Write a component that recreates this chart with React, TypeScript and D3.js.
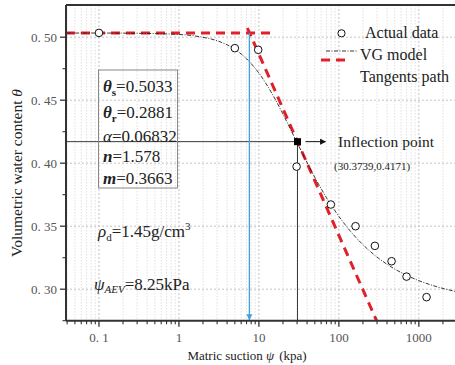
import React from "react";
import * as d3 from "d3";

// ---- data ----
const actualPsi = [0.1, 5.0, 9.8, 29.6, 79.4, 161.6, 282, 456, 702, 1248];
const actualTheta = [0.5034, 0.4913, 0.49, 0.3973, 0.3672, 0.35, 0.3344, 0.3222, 0.31, 0.2937];

const vgPsi = [0.04, 0.1, 0.3, 1, 2, 3, 5, 7, 10, 15, 20, 30, 50, 70, 100, 150, 200, 300, 500, 700, 1000, 1500, 2000, 3000];
const vgTheta = [0.5033, 0.5033, 0.5031, 0.5022, 0.4999, 0.4972, 0.4904, 0.4829, 0.4715, 0.4539, 0.439, 0.4164, 0.3888, 0.3726, 0.3578, 0.3437, 0.3353, 0.3255, 0.316, 0.3111, 0.3068, 0.3029, 0.3006, 0.298];

const tangentFlatPsi = [0.0387, 15.4];
const tangentFlatTheta = [0.5033, 0.5033];
const tangentSlopePsi = [7.17, 296];
const tangentSlopeTheta = [0.5073, 0.275];

const inflection = { psi: 30.3739, theta: 0.4171 };
const aevPsi = 7.6;

const xTicks = [0.1, 1, 10, 100, 1000];
const xTickLabels = ["0. 1", "1", "10", "100", "1000"];
const yTicks = [0.3, 0.35, 0.4, 0.45, 0.5];
const yTickLabels = ["0. 30", "0. 35", "0. 40", "0. 45", "0. 50"];
const yMinorTicks = [0.275, 0.325, 0.375, 0.425, 0.475];

const params = [
  { sym: "θ", sub: "s", val: "=0.5033" },
  { sym: "θ", sub: "r", val: "=0.2881" },
  { sym: "α", sub: "", val: "=0.06832" },
  { sym: "n", sub: "", val: "=1.578" },
  { sym: "m", sub: "", val: "=0.3663" },
];

const W = 455;
const H = 365;
const L = 66, R = 457, T = 5, B = 320.7;
const FONT = "'Liberation Serif', 'Times New Roman', serif";

export default function App() {
  const x = d3.scaleLog().domain([0.0387, 3000]).range([L, R]);
  const y = d3.scaleLinear().domain([0.275, 0.525]).range([B, T + 0.7]);

  const minorX: number[] = [];
  for (let e = -2; e <= 3; e++) {
    for (let k = 2; k <= 9; k++) {
      const v = k * Math.pow(10, e);
      if (v >= 0.0387 && v <= 3000) minorX.push(v);
    }
  }

  const line = d3
    .line<[number, number]>()
    .x((d) => x(d[0]))
    .y((d) => y(d[1]));
  const curve = d3
    .line<[number, number]>()
    .x((d) => x(d[0]))
    .y((d) => y(d[1]))
    .curve(d3.curveMonotoneX);

  const vgData = vgPsi.map((p, i) => [p, vgTheta[i]] as [number, number]);
  const flat = tangentFlatPsi.map((p, i) => [p, tangentFlatTheta[i]] as [number, number]);
  const slope = tangentSlopePsi.map((p, i) => [p, tangentSlopeTheta[i]] as [number, number]);

  const ix = x(inflection.psi);
  const iy = y(inflection.theta);
  const ax = x(aevPsi);

  return (
    <svg width={W} height={H} style={{ position: "absolute", left: 0, top: 0, background: "#fff" }} fontFamily={FONT}>
      <defs>
        <clipPath id="plot">
          <rect x={L} y={T} width={R - L} height={B - T} />
        </clipPath>
        <marker id="arrowBlue" viewBox="0 0 10 10" refX="9" refY="5" markerWidth="6" markerHeight="7" orient="auto" markerUnits="userSpaceOnUse">
          <path d="M0,0 L10,5 L0,10 z" fill="#3ea3e0" />
        </marker>
        <marker id="arrowBlack" viewBox="0 0 10 10" refX="9" refY="5" markerWidth="9" markerHeight="6" orient="auto" markerUnits="userSpaceOnUse">
          <path d="M0,0 L10,5 L0,10 z" fill="#111" />
        </marker>
      </defs>

      {/* grid */}
      <g clipPath="url(#plot)">
        {minorX.map((v, i) => (
          <line key={"mx" + i} x1={x(v)} x2={x(v)} y1={T} y2={B} stroke="#d8d8d8" strokeWidth={0.8} strokeDasharray="1.5,1.5" />
        ))}
        {xTicks.map((v, i) => (
          <line key={"gx" + i} x1={x(v)} x2={x(v)} y1={T} y2={B} stroke="#bdbdbd" strokeWidth={0.9} strokeDasharray="2,2" />
        ))}
        {yTicks.map((v, i) => (
          <line key={"gy" + i} x1={L} x2={R} y1={y(v)} y2={y(v)} stroke="#bdbdbd" strokeWidth={0.9} strokeDasharray="2,2" />
        ))}
      </g>

      {/* tangents */}
      <g clipPath="url(#plot)">
        <path d={line(flat) || ""} fill="none" stroke="#e0202a" strokeWidth={3} strokeDasharray="9,6" />
        <path d={line(slope) || ""} fill="none" stroke="#e0202a" strokeWidth={3} strokeDasharray="9,6" />
        {/* VG model */}
        <path d={curve(vgData) || ""} fill="none" stroke="#222" strokeWidth={0.9} strokeDasharray="4,1.5,1,1.5" />
      </g>

      {/* inflection guides */}
      <line x1={L} x2={ix} y1={iy} y2={iy} stroke="#222" strokeWidth={0.9} />
      <line x1={ix} x2={ix} y1={iy} y2={B} stroke="#222" strokeWidth={0.9} />

      {/* AEV blue arrow */}
      <line x1={ax} x2={ax} y1={y(0.5033)} y2={B - 1} stroke="#3ea3e0" strokeWidth={1.3} markerEnd="url(#arrowBlue)" />

      {/* actual data */}
      {actualPsi.map((p, i) => (
        <circle key={"pt" + i} cx={x(p)} cy={y(actualTheta[i])} r={3.8} fill="#fff" stroke="#111" strokeWidth={1} />
      ))}

      {/* inflection point */}
      <rect x={ix - 3.5} y={iy - 3.5} width={7} height={7} fill="#000" />
      <line x1={ix + 8} x2={ix + 28} y1={iy} y2={iy} stroke="#111" strokeWidth={1} markerEnd="url(#arrowBlack)" />
      <text x={338} y={147} fontSize={15.5} fill="#222">Inflection point</text>
      <text x={334} y={170} fontSize={11} fill="#222">(30.3739,0.4171)</text>

      {/* axes */}
      <line x1={L} x2={W} y1={T} y2={T} stroke="#333" strokeWidth={2} />
      <line x1={L} x2={L} y1={T} y2={B} stroke="#333" strokeWidth={2} />
      <line x1={L} x2={W} y1={B} y2={B} stroke="#333" strokeWidth={2} />
      {xTicks.map((v, i) => (
        <g key={"xt" + i}>
          <line x1={x(v)} x2={x(v)} y1={B} y2={B + 6} stroke="#333" strokeWidth={1.3} />
          <text x={x(v)} y={B + 21} fontSize={13} fill="#555" textAnchor="middle">{xTickLabels[i]}</text>
        </g>
      ))}
      {minorX.map((v, i) => (
        <line key={"mxt" + i} x1={x(v)} x2={x(v)} y1={B} y2={B + 3.5} stroke="#333" strokeWidth={1.1} />
      ))}
      {yTicks.map((v, i) => (
        <g key={"yt" + i}>
          <line x1={L - 6} x2={L} y1={y(v)} y2={y(v)} stroke="#333" strokeWidth={1.3} />
          <text x={L - 9} y={y(v) + 4.5} fontSize={13} fill="#555" textAnchor="end">{yTickLabels[i]}</text>
        </g>
      ))}
      {yMinorTicks.map((v, i) => (
        <line key={"ymt" + i} x1={L - 3.5} x2={L} y1={y(v)} y2={y(v)} stroke="#333" strokeWidth={1.1} />
      ))}

      {/* axis titles */}
      <text transform="translate(22,173) rotate(-90)" fontSize={15.5} fill="#222" textAnchor="middle">
        Volumetric water content <tspan fontStyle="italic">θ</tspan>
      </text>
      <text x={247} y={360} fontSize={13} fill="#222" textAnchor="middle">
        Matric suction <tspan fontStyle="italic">ψ</tspan>
        <tspan dx={5}>(kpa)</tspan>
      </text>

      {/* legend */}
      <circle cx={341.5} cy={33.3} r={3.6} fill="#fff" stroke="#111" strokeWidth={1} />
      <text x={365} y={38} fontSize={16} fill="#222">Actual data</text>
      <line x1={326} x2={357} y1={51} y2={51} stroke="#222" strokeWidth={0.9} strokeDasharray="4,1.5,1,1.5" />
      <text x={360} y={60} fontSize={16} fill="#222">VG model</text>
      <line x1={321} x2={348} y1={60} y2={60} stroke="#e0202a" strokeWidth={3} strokeDasharray="9,6" />
      <text x={360} y={82} fontSize={16} fill="#222">Tangents path</text>

      {/* parameter box */}
      <rect x={98.5} y={70} width={79} height={118} fill="none" stroke="#888" strokeWidth={1} />
      {params.map((p, i) => {
        const baselines = [91.7, 118, 141.7, 162, 183.5];
        const boldItalic = p.sym !== "α";
        return (
          <text key={"pr" + i} x={103} y={baselines[i]} fontSize={17} fill="#222">
            <tspan fontStyle="italic" fontWeight={boldItalic ? "bold" : "normal"}>{p.sym}</tspan>
            {p.sub ? (
              <tspan fontSize={11} fontWeight="bold" dy={4}>{p.sub}</tspan>
            ) : null}
            <tspan dy={p.sub ? -4 : 0}>{p.val}</tspan>
          </text>
        );
      })}

      <text x={98} y={237} fontSize={17} fill="#222">
        <tspan fontStyle="italic">ρ</tspan>
        <tspan fontSize={11} dy={4}>d</tspan>
        <tspan dy={-4}>=1.45g/cm</tspan>
        <tspan fontSize={11} dy={-7}>3</tspan>
      </text>
      <text x={94} y={290} fontSize={17} fill="#222">
        <tspan fontStyle="italic">ψ</tspan>
        <tspan fontSize={11} fontStyle="italic" dy={3}>AEV</tspan>
        <tspan dy={-3}>=8.25kPa</tspan>
      </text>
    </svg>
  );
}
